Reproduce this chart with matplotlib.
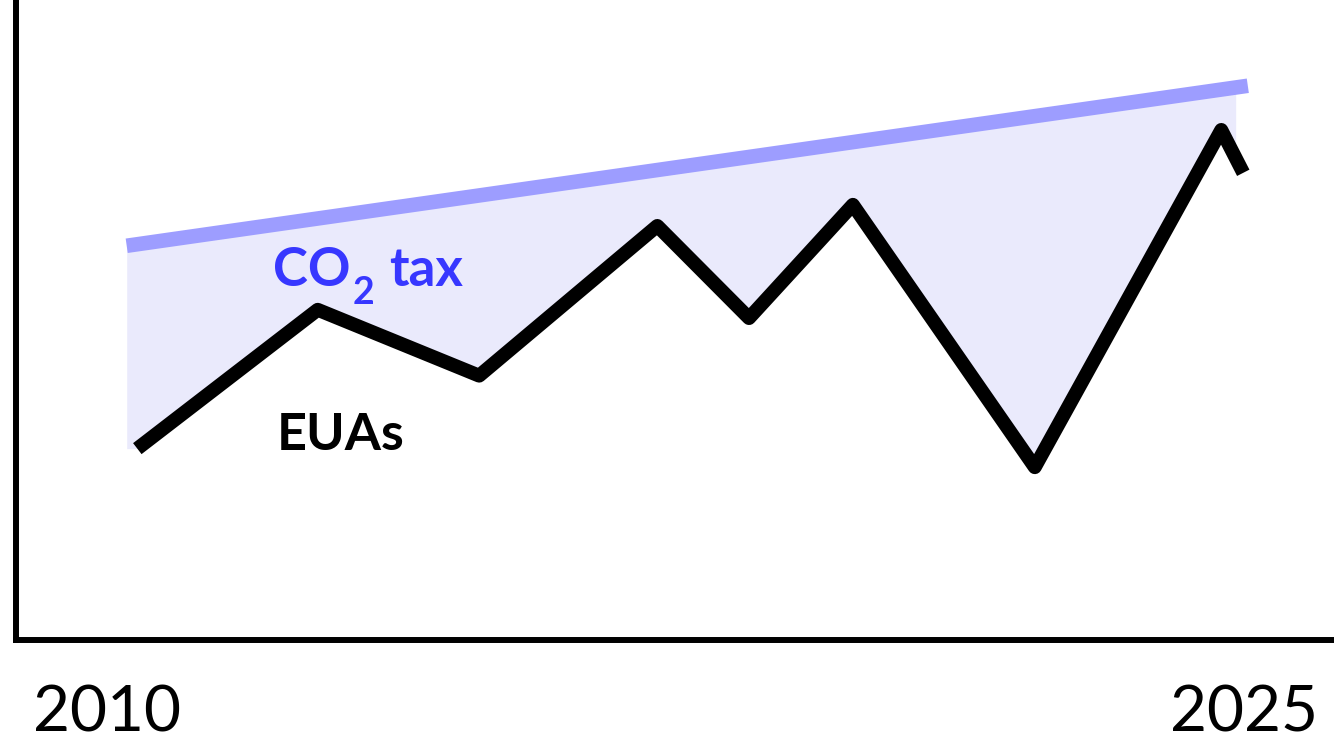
import numpy as np
import matplotlib
matplotlib.use("Agg")
import matplotlib.pyplot as plt

plt.rcParams['font.family'] = ['Lato', 'DejaVu Sans']

# ---- data (schematic) ----
eua_years = [2010.40, 2012.78, 2014.91, 2017.26, 2018.47, 2019.84, 2022.24, 2024.70, 2024.99]
eua_price = [29.9, 51.6, 41.3, 64.7, 50.3, 68.0, 27.0, 79.7, 73.0]
tax_years = [2010.26, 2025.05]
tax_price = [61.6, 86.6]
fill_range = [2010.26, 2024.89]
tick_years = [2010, 2025]
tick_labels = ["2010", "2025"]

W, H = 1334, 736
fig = plt.figure(figsize=(W / 100, H / 100), dpi=100)
ax = fig.add_axes([15.5 / W, (H - 640) / H, 1 - 15.5 / W, 640 / H])

ex = np.array(eua_years)
ey = np.array(eua_price)
tx = np.array(tax_years)
ty = np.array(tax_price)

inner = ex[(ex > fill_range[0]) & (ex < fill_range[1])]
xs = np.sort(np.concatenate([fill_range, inner]))
lower = np.interp(xs, ex, ey)
upper = np.interp(xs, tx, ty)
ax.fill_between(xs, lower, upper, color='#EAEAFC', linewidth=0, zorder=1)

ax.plot(tx, ty, color='#9D9DFF', linewidth=10.5, solid_capstyle='butt', zorder=2)
ax.plot(ex, ey, color='black', linewidth=10, solid_capstyle='butt',
        solid_joinstyle='round', zorder=3)

ax.set_xlim(2008.793, 2026.187)
ax.set_ylim(0, 100)
ax.set_xticks(tick_years)
ax.set_xticklabels(tick_labels, fontsize=46)
ax.set_yticks([])
ax.tick_params(axis='x', length=0, pad=32)
for s in ['top', 'right']:
    ax.spines[s].set_visible(False)
for s in ['left', 'bottom']:
    ax.spines[s].set_linewidth(4.3)
    ax.spines[s].set_color('black')
    ax.spines[s].set_capstyle('projecting')

ax.text(2012.243, 29.69, "EUAs", color='black', fontsize=37.5,
        fontweight='bold', ha='left', va='baseline', zorder=4)

# CO2 tax label with a real subscript, placed piece by piece
blue = '#3737FF'
co_x, co_y = 2012.19, 55.3
t_co = ax.text(co_x, co_y, "CO", color=blue, fontsize=38,
               fontweight='bold', ha='left', va='baseline', zorder=4)
fig.canvas.draw()
r = fig.canvas.get_renderer()
bb = t_co.get_window_extent(r)
base_px = ax.transData.transform((co_x, co_y))[1]
inv = ax.transData.inverted()
x2, y2 = inv.transform((bb.x1 + 2, base_px - 18))
t_2 = ax.text(x2, y2, "2", color=blue, fontsize=27, fontweight='bold',
              ha='left', va='baseline', zorder=4)
bb2 = t_2.get_window_extent(r)
x3, y3 = inv.transform((bb2.x1 + 15, base_px))
ax.text(x3, y3, "tax", color=blue, fontsize=38, fontweight='bold',
        ha='left', va='baseline', zorder=4)

fig.savefig("out.png", dpi=100)
